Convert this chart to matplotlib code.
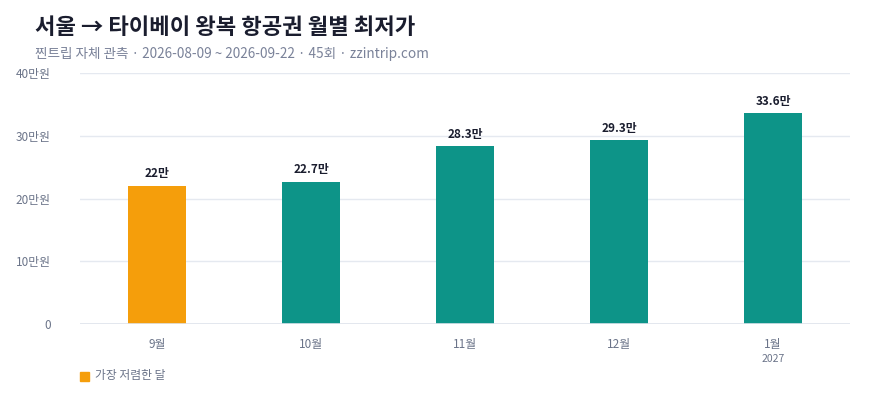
import matplotlib
matplotlib.use("Agg")
import matplotlib.pyplot as plt
from matplotlib.patches import Rectangle

plt.rcParams['font.family'] = ['Noto Sans CJK KR', 'DejaVu Sans']

months = ["9월", "10월", "11월", "12월", "1월"]
sub_labels = ["", "", "", "", "2027"]
prices = [22.0, 22.7, 28.3, 29.3, 33.6]  # 만원
value_labels = ["22만", "22.7만", "28.3만", "29.3만", "33.6만"]
yticks = [0, 10, 20, 30, 40]
ytick_labels = ["0", "10만원", "20만원", "30만원", "40만원"]

ORANGE = "#f59e0b"
TEAL = "#0d9488"
GRID = "#e5e9f0"
TICK = "#6b7489"
DARK = "#1a1d2e"

fig = plt.figure(figsize=(8.8, 4.0), dpi=100)
ax = fig.add_axes([80/880, 76/400, 770/880, 251/400])

cheapest = prices.index(min(prices))
colors = [ORANGE if i == cheapest else TEAL for i in range(len(prices))]
x = list(range(len(months)))
bars = ax.bar(x, prices, width=0.38, color=colors, zorder=3)

ax.set_xlim(-0.5, len(months) - 0.5)
ax.set_ylim(0, 40)
ax.set_yticks(yticks)
ax.set_yticklabels(ytick_labels, fontsize=8.5, color=TICK)
ax.tick_params(axis='y', length=0, pad=21)
ax.set_xticks(x)
ax.set_xticklabels(months, fontsize=8.5, color=TICK)
ax.tick_params(axis='x', length=0, pad=10)
ax.grid(axis='y', color=GRID, linewidth=1, zorder=0)
for s in ax.spines.values():
    s.set_visible(False)
ax.axhline(0, color="#dfe4ec", linewidth=1.2, zorder=4)

for xi, v, lab in zip(x, prices, value_labels):
    ax.annotate(lab, (xi, v), xytext=(0, 4), textcoords='offset points',
                ha='center', va='bottom', fontsize=8.5, fontweight='bold', color=DARK)

for xi, s in zip(x, sub_labels):
    if s:
        ax.annotate(s, (xi, 0), xytext=(0, -25), textcoords='offset points',
                    ha='center', va='center', fontsize=7.5, color=TICK,
                    annotation_clip=False)

fig.text(35/880, 1 - 28/400, "서울 → 타이베이 왕복 항공권 월별 최저가", fontsize=16,
         fontweight='bold', color=DARK, va='center', ha='left')
fig.text(35/880, 1 - 54/400,
         "찐트립 자체 관측 · 2026-08-09 ~ 2026-09-22 · 45회 · zzintrip.com",
         fontsize=9.8, color="#7a8299", va='center', ha='left')

fig.patches.append(Rectangle((80/880, 1 - 381/400), 9/880, 9/400,
                             transform=fig.transFigure, color=ORANGE))
fig.text(95/880, 1 - 376/400, "가장 저렴한 달", fontsize=8.5, color=TICK,
         va='center', ha='left')

fig.savefig("out.png", dpi=100, facecolor="white")
